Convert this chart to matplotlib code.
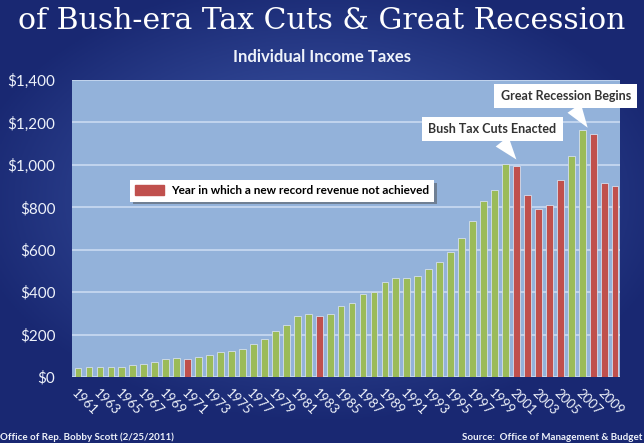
import numpy as np
import matplotlib
matplotlib.use('Agg')
import matplotlib.pyplot as plt
from matplotlib.patches import Patch

years = np.arange(1961, 2011)
revenue = [41.3, 45.6, 47.6, 48.7, 48.8, 55.4, 61.5, 68.7, 87.2, 90.4,
           86.2, 94.7, 103.2, 119.0, 122.4, 131.6, 157.6, 181.0, 217.8, 244.1,
           285.9, 297.7, 288.9, 298.4, 334.5, 349.0, 392.6, 401.2, 445.7, 466.9,
           467.8, 476.0, 509.7, 543.1, 590.2, 656.4, 737.5, 828.6, 879.5, 1004.5,
           994.3, 858.3, 793.7, 809.0, 927.2, 1043.9, 1163.5, 1145.7, 915.3, 898.5]
no_record = [1971, 1983, 2001, 2002, 2003, 2004, 2005, 2008, 2009, 2010]
tick_years = list(range(1961, 2010, 2))
ytick_vals = list(range(0, 1401, 200))
ytick_labels = ['$0', '$200', '$400', '$600', '$800', '$1,000', '$1,200', '$1,400']

title = 'of Bush-era Tax Cuts & Great Recession'
subtitle = 'Individual Income Taxes'
legend_label = 'Year in which a new record revenue not achieved'

GREEN = '#9bbb59'
RED = '#c0504d'
TXT = '#eef2fa'

plt.rcParams['font.family'] = ['Lato', 'DejaVu Sans']

fig = plt.figure(figsize=(6.44, 4.43), dpi=100)

# background gradient
bg = fig.add_axes([0, 0, 1, 1])
gx, gy = np.meshgrid(np.linspace(-1, 1, 300), np.linspace(-1, 1, 200))
r = np.clip(np.sqrt((gx / 1.1) ** 2 + ((gy + 0.1) / 1.0) ** 2), 0, 1)
c_in = np.array([0.27, 0.38, 0.70])
c_out = np.array([0.10, 0.16, 0.45])
img = c_in[None, None, :] * (1 - r[..., None]) + c_out[None, None, :] * r[..., None]
bg.imshow(img, aspect='auto', extent=[0, 1, 0, 1])
bg.axis('off')

ax = fig.add_axes([72 / 644, 1 - 377 / 443, 548 / 644, 297 / 443])
ax.set_facecolor('#93b2da')
colors = [RED if y in no_record else GREEN for y in years]
ax.bar(years, revenue, width=0.62, color=colors, edgecolor='#d5dfee', linewidth=0.6, zorder=3)
ax.set_xlim(1960.45, 2010.45)
ax.set_ylim(0, 1400)
ax.set_yticks(ytick_vals)
ax.set_yticklabels(ytick_labels, color=TXT, fontsize=11)
ax.set_xticks(tick_years)
ax.set_xticklabels([str(y) for y in tick_years], rotation=-45, ha='left', va='top',
                   rotation_mode='anchor', color=TXT, fontsize=9.5)
ax.tick_params(length=0, axis='y', pad=12)
ax.tick_params(length=0, axis='x', pad=7)
ax.grid(axis='y', color='#c2d4ee', linewidth=1.4, zorder=0)
for s in ax.spines.values():
    s.set_visible(False)

leg = ax.legend(handles=[Patch(color=RED, label=legend_label)], loc='upper left',
                bbox_to_anchor=(124 / 644, 1 - 174 / 443), bbox_transform=fig.transFigure,
                fancybox=False, shadow=True, framealpha=1, edgecolor='white',
                prop={'weight': 'bold', 'size': 8.5}, handlelength=2.4, handleheight=0.95,
                borderpad=0.45, handletextpad=0.6)
leg.get_frame().set_linewidth(0)

ann_style = dict(fontsize=9, fontweight='bold', color='#333333', ha='center', va='center',
                 bbox=dict(boxstyle='square,pad=0.5', fc='white', ec='none'),
                 arrowprops=dict(arrowstyle='wedge,tail_width=1.3', fc='white', ec='none',
                                 shrinkA=0, shrinkB=0))
ax.annotate('Bush Tax Cuts Enacted', xy=(2001, 1025), xytext=(1998.8, 1168), zorder=5, **ann_style)
ax.annotate('Great Recession Begins', xy=(2007.5, 1175), xytext=(2005.5, 1325), zorder=5, **ann_style)

fig.text(0.5, 1 - 21 / 443, title, family='DejaVu Serif', fontsize=21.5, color='white',
         ha='center', va='center')
fig.text(0.5, 1 - 57 / 443, subtitle, fontsize=12, fontweight='bold', color=TXT,
         ha='center', va='center')
fig.text(0.0, 1 - 437 / 443, 'Office of Rep. Bobby Scott (2/25/2011)', fontsize=7,
         fontweight='bold', color=TXT, ha='left', va='center')
fig.text(642 / 644, 1 - 437 / 443, 'Source:  Office of Management & Budget', fontsize=7,
         fontweight='bold', color=TXT, ha='right', va='center')

fig.savefig('out.png', dpi=100)
